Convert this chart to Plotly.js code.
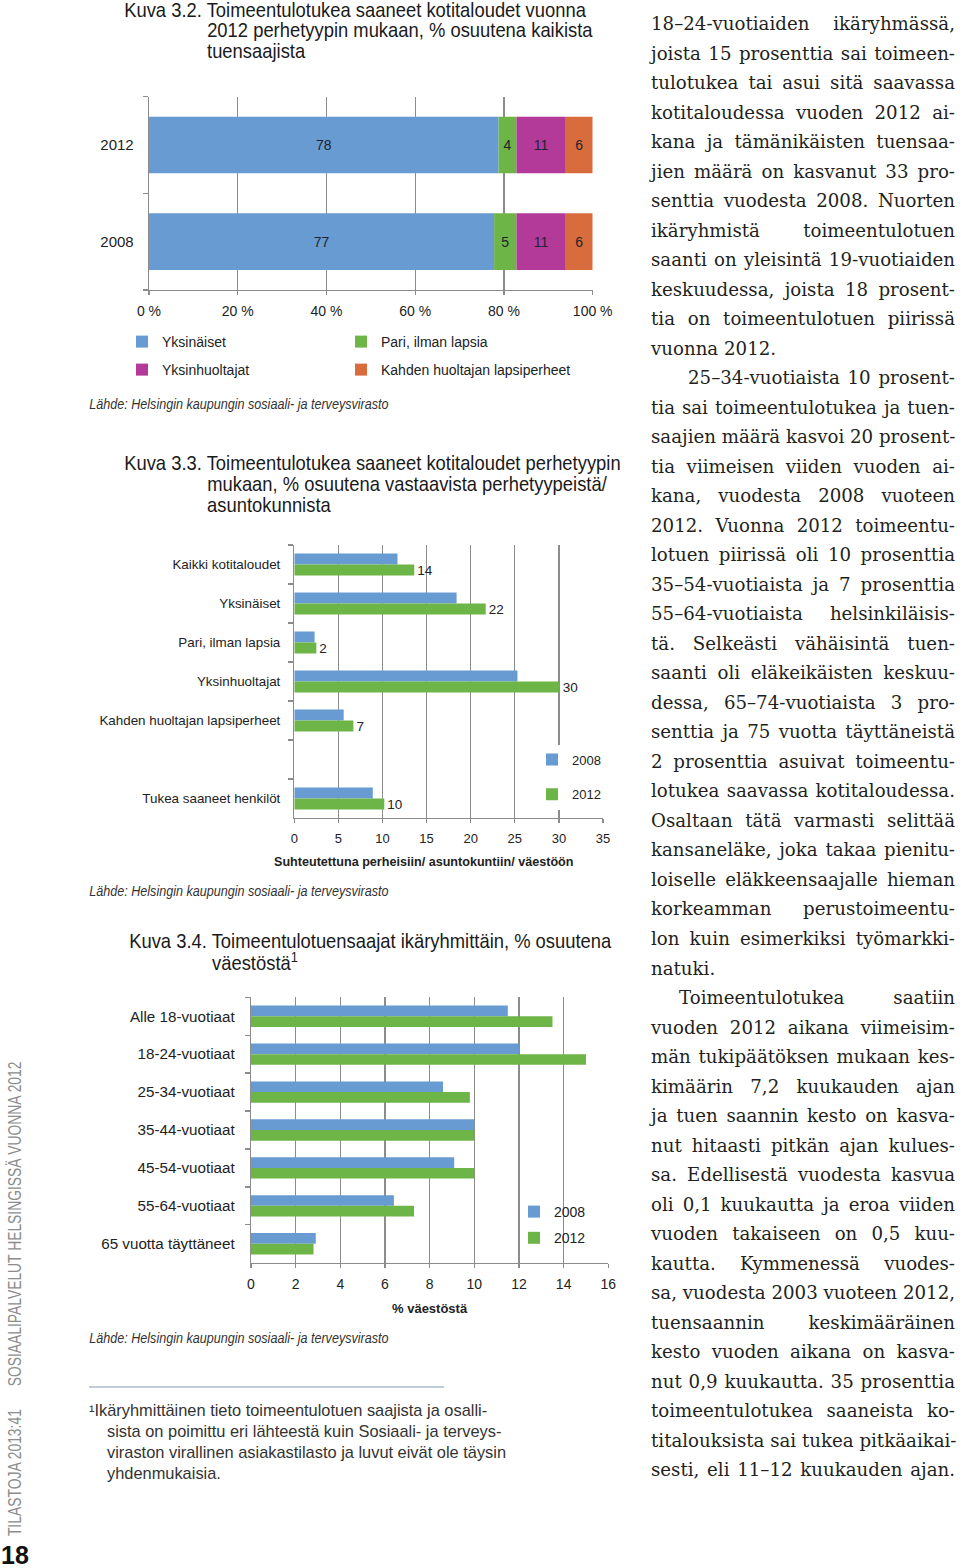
<!DOCTYPE html>
<html>
<head>
<meta charset="utf-8">
<script src="https://cdn.plot.ly/plotly-3.0.1.min.js"></script>
<style>
html, body { margin: 0; padding: 0; background: #fff; }
#page { position: relative; width: 960px; height: 1568px; overflow: hidden; }
#chart { position: absolute; left: 0; top: 0; width: 960px; height: 1568px; }
#col { position: absolute; left: 651px; top: 9px; width: 304px; font-family: 'DejaVu Serif', 'Liberation Serif', serif; font-size: 18.2px; line-height: 29.53px; color: #231f20; }
#col div { text-align: justify; text-align-last: justify; height: 29.53px; white-space: nowrap; }
#col div.end { text-align-last: left; }
</style>
</head>
<body>
<div id="page">
  <div id="chart"></div>
  <div id="col"></div>
</div>
<script>
// Kuva 3.2 – share of all recipients by family type
var years32 = ['2012', '2008'];
var famTypes = ['Yksinäiset', 'Pari, ilman lapsia', 'Yksinhuoltajat', 'Kahden huoltajan lapsiperheet'];
var famColors = ['#689bd1', '#6db546', '#b33a99', '#d96c3c'];
var share2012 = [78, 4, 11, 6];
var share2008 = [77, 5, 11, 6];

// Kuva 3.3 – share of each family type / household
var cats33 = ['Kaikki kotitaloudet', 'Yksinäiset', 'Pari, ilman lapsia', 'Yksinhuoltajat',
              'Kahden huoltajan lapsiperheet', ' ', 'Tukea saaneet henkilöt'];
var rate2008 = [11.7, 18.4, 2.3, 25.3, 5.6, null, 8.9];
var rate2012 = [13.6, 21.7, 2.5, 30.1, 6.7, null, 10.2];
var labels2012 = ['14', '22', '2', '30', '7', ' ', '10'];

// Kuva 3.4 – recipients by age group, % of population
var ages = ['Alle 18-vuotiaat', '18-24-vuotiaat', '25-34-vuotiaat', '35-44-vuotiaat',
            '45-54-vuotiaat', '55-64-vuotiaat', '65 vuotta täyttäneet'];
var age2008 = [11.5, 12.0, 8.6, 10.0, 9.1, 6.4, 2.9];
var age2012 = [13.5, 15.0, 9.8, 10.0, 10.0, 7.3, 2.8];

var yearNames = ['2008', '2012'];
var yearColors = ['#689bd1', '#6db546'];

// body text column, one entry per printed line
var bodyLines = [
  '18–24-vuotiaiden ikäryhmässä,',
  'joista 15 prosenttia sai toimeen-',
  'tulotukea tai asui sitä saavassa',
  'kotitaloudessa vuoden 2012 ai-',
  'kana ja tämänikäisten tuensaa-',
  'jien määrä on kasvanut 33 pro-',
  'senttia vuodesta 2008. Nuorten',
  'ikäryhmistä toimeentulotuen',
  'saanti on yleisintä 19-vuotiaiden',
  'keskuudessa, joista 18 prosent-',
  'tia on toimeentulotuen piirissä',
  'vuonna 2012.',
  '25–34-vuotiaista 10 prosent-',
  'tia sai toimeentulotukea ja tuen-',
  'saajien määrä kasvoi 20 prosent-',
  'tia viimeisen viiden vuoden ai-',
  'kana, vuodesta 2008 vuoteen',
  '2012. Vuonna 2012 toimeentu-',
  'lotuen piirissä oli 10 prosenttia',
  '35–54-vuotiaista ja 7 prosenttia',
  '55–64-vuotiaista helsinkiläisis-',
  'tä. Selkeästi vähäisintä tuen-',
  'saanti oli eläkeikäisten keskuu-',
  'dessa, 65–74-vuotiaista 3 pro-',
  'senttia ja 75 vuotta täyttäneistä',
  '2 prosenttia asuivat toimeentu-',
  'lotukea saavassa kotitaloudessa.',
  'Osaltaan tätä varmasti selittää',
  'kansaneläke, joka takaa pienitu-',
  'loiselle eläkkeensaajalle hieman',
  'korkeamman perustoimeentu-',
  'lon kuin esimerkiksi työmarkki-',
  'natuki.',
  'Toimeentulotukea saatiin',
  'vuoden 2012 aikana viimeisim-',
  'män tukipäätöksen mukaan kes-',
  'kimäärin 7,2 kuukauden ajan',
  'ja tuen saannin kesto on kasva-',
  'nut hitaasti pitkän ajan kulues-',
  'sa. Edellisestä vuodesta kasvua',
  'oli 0,1 kuukautta ja eroa viiden',
  'vuoden takaiseen on 0,5 kuu-',
  'kautta. Kymmenessä vuodes-',
  'sa, vuodesta 2003 vuoteen 2012,',
  'tuensaannin keskimääräinen',
  'kesto vuoden aikana on kasva-',
  'nut 0,9 kuukautta. 35 prosenttia',
  'toimeentulotukea saaneista ko-',
  'titalouksista sai tukea pitkäaikai-',
  'sesti, eli 11–12 kuukauden ajan.'
];
var paraEnds = [11, 32];
var paraStarts = {12: 37, 33: 28};

var col = document.getElementById('col');
bodyLines.forEach(function(line, i) {
  var d = document.createElement('div');
  d.textContent = line;
  if (paraEnds.indexOf(i) >= 0) d.className = 'end';
  if (paraStarts[i]) d.style.paddingLeft = paraStarts[i] + 'px';
  col.appendChild(d);
});

var W = 960, H = 1568;
function px(v) { return v / W; }
function py(v) { return 1 - v / H; }

var SANS = 'Liberation Sans, Arial, sans-serif';
var GRID = '#8c8c8c';
var INK = '#222';

var data = [];

// stacked shares (normalised to 100 %)
var tot2012 = share2012.reduce(function(a, b) { return a + b; }, 0);
var tot2008 = share2008.reduce(function(a, b) { return a + b; }, 0);
var run2012 = 0, run2008 = 0;
famTypes.forEach(function(name, i) {
  var p12 = share2012[i] / tot2012 * 100;
  var p08 = share2008[i] / tot2008 * 100;
  data.push({
    type: 'bar', orientation: 'h', name: name,
    x: [p12, p08], y: years32, base: [run2012, run2008],
    text: [String(share2012[i]), String(share2008[i])],
    textposition: 'inside', insidetextanchor: 'middle', constraintext: 'none',
    insidetextfont: {family: SANS, size: 14, color: '#1d2430'},
    marker: {color: famColors[i], line: {width: 0}},
    offsetgroup: 'k32', width: 0.586,
    xaxis: 'x', yaxis: 'y',
    legend: i < 2 ? 'legend' : 'legend2',
    legendwidth: i % 2 === 0 ? 174 : 240,
    hoverinfo: 'skip'
  });
  run2012 += p12;
  run2008 += p08;
});

// grouped bars, Kuva 3.3
[rate2008, rate2012].forEach(function(vals, k) {
  var t = {
    type: 'bar', orientation: 'h', name: yearNames[k],
    x: vals, y: cats33,
    marker: {color: yearColors[k], line: {width: 0}},
    xaxis: 'x2', yaxis: 'y2', legend: 'legend3', legendgroup: 'g33' + k,
    hoverinfo: 'skip', cliponaxis: false
  };
  if (k === 1) {
    t.text = labels2012;
    t.textposition = 'outside';
    t.constraintext = 'none';
    t.textfont = {family: SANS, size: 13.5, color: INK};
  }
  data.push(t);
});

// grouped bars, Kuva 3.4
[age2008, age2012].forEach(function(vals, k) {
  data.push({
    type: 'bar', orientation: 'h', name: yearNames[k],
    x: vals, y: ages,
    marker: {color: yearColors[k], line: {width: 0}},
    xaxis: 'x3', yaxis: 'y3', legend: 'legend4', legendgroup: 'g34' + k,
    hoverinfo: 'skip'
  });
});

function xAx(dom, range, dtick, size, anchor) {
  return {
    domain: dom, range: range, dtick: dtick, anchor: anchor,
    showgrid: true, gridcolor: GRID, gridwidth: 1.3,
    showline: true, linecolor: GRID, linewidth: 1.3,
    ticks: 'outside', ticklen: 4, tickcolor: GRID, tickwidth: 1.3,
    zeroline: false, fixedrange: true,
    tickfont: {family: SANS, size: size, color: INK}, ticklabelstandoff: 4
  };
}
function yAx(dom, cats, reversed, size, anchor, standoff) {
  return {
    domain: dom, type: 'category', categoryorder: 'array', categoryarray: cats,
    autorange: reversed ? 'reversed' : true, anchor: anchor,
    showgrid: false, showline: true, linecolor: GRID, linewidth: 1.3,
    ticks: 'outside', ticklen: 5, tickcolor: GRID, tickwidth: 1.3, tickson: 'boundaries',
    zeroline: false, fixedrange: true,
    tickfont: {family: SANS, size: size, color: INK}, ticklabelstandoff: standoff
  };
}

var x1 = xAx([px(149), px(592.7)], [0, 100], 20, 14, 'y');
x1.ticksuffix = ' %';

// annotations; "squeeze" imitates the condensed face of the printed page
var annotations = [];
var squeeze = [];
function note(text, x, y, font, extra, fit) {
  var a = {text: text, x: px(x), y: py(y), xref: 'paper', yref: 'paper',
           xanchor: 'left', yanchor: 'middle', showarrow: false, font: font};
  for (var k in extra || {}) a[k] = extra[k];
  if (fit) squeeze.push({index: annotations.length, fit: fit, centre: a.xanchor === 'center'});
  annotations.push(a);
}
var titleFont = {family: SANS, size: 20, color: '#1a1a1a'};
var srcFont = {family: SANS, size: 14, color: '#333', style: 'italic'};
var footFont = {family: SANS, size: 16.4, color: '#333'};
var sideFont = {family: SANS, size: 18, color: '#8d8d8d'};
var src = 'Lähde: Helsingin kaupungin sosiaali- ja terveysvirasto';
var TITLE = {scale: 0.92}, SRC = {scale: 0.9};

note('Kuva 3.2. Toimeentulotukea saaneet kotitaloudet vuonna', 122, 10, titleFont, null, TITLE);
note('2012 perhetyypin mukaan, % osuutena kaikista', 205, 30, titleFont, null, TITLE);
note('tuensaajista', 205, 51, titleFont, null, TITLE);
note(src, 87, 404, srcFont, null, SRC);
note('Kuva 3.3. Toimeentulotukea saaneet kotitaloudet perhetyypin', 122, 463, titleFont, null, TITLE);
note('mukaan, % osuutena vastaavista perhetyypeistä/', 205, 484, titleFont, null, TITLE);
note('asuntokunnista', 205, 505, titleFont, null, TITLE);
note('Suhteutettuna perheisiin/ asuntokuntiin/ väestöön', 423, 862,
     {family: SANS, size: 12.6, color: INK, weight: 'bold'}, {xanchor: 'center'});
note(src, 87, 891, srcFont, null, SRC);
note('Kuva 3.4. Toimeentulotuensaajat ikäryhmittäin, % osuutena', 127, 941, titleFont, null, TITLE);
note('väestöstä<sup>1</sup>', 210, 962, titleFont, null, TITLE);
note('% väestöstä', 430, 1308, {family: SANS, size: 13, color: INK, weight: 'bold'}, {xanchor: 'center'});
note(src, 87, 1338, srcFont, null, SRC);
note('¹Ikäryhmittäinen tieto toimeentulotuen saajista ja osalli-', 87, 1410, footFont);
note('sista on poimittu eri lähteestä kuin Sosiaali- ja terveys-', 105, 1431, footFont);
note('viraston virallinen asiakastilasto ja luvut eivät ole täysin', 105, 1452, footFont);
note('yhdenmukaisia.', 105, 1473, footFont);
note('TILASTOJA 2013:41', 15, 1473, sideFont, {xanchor: 'center', textangle: -90}, {width: 127});
note('SOSIAALIPALVELUT HELSINGISSÄ VUONNA 2012', 15, 1224, sideFont, {xanchor: 'center', textangle: -90}, {width: 325});
note('18', 15, 1555, {family: SANS, size: 25, color: '#111', weight: 'bold'}, {xanchor: 'center'});

var rowLegend = {
  orientation: 'h', xanchor: 'left', yanchor: 'middle', bgcolor: 'rgba(0,0,0,0)',
  font: {family: SANS, size: 14, color: INK}
};

var layout = {
  width: W, height: H,
  margin: {l: 0, r: 0, t: 0, b: 0},
  paper_bgcolor: '#fff', plot_bgcolor: 'rgba(0,0,0,0)',
  barmode: 'group', bargap: 0.436, bargroupgap: 0,
  hovermode: false, showlegend: true,
  xaxis: x1,
  yaxis: yAx([py(290), py(96.7)], ['2008', '2012'], false, 15, 'x', 11),
  xaxis2: xAx([px(294.3), px(603)], [0, 35], 5, 13, 'y2'),
  yaxis2: yAx([py(818), py(545)], cats33, true, 13.4, 'x2', 10),
  xaxis3: xAx([px(251), px(608.3)], [0, 16], 2, 14, 'y3'),
  yaxis3: yAx([py(1262.7), py(997.3)], ages, true, 15.2, 'x3', 12),
  legend: Object.assign({}, rowLegend, {x: px(122), y: py(342)}),
  legend2: Object.assign({}, rowLegend, {x: px(122), y: py(370)}),
  legend3: {x: px(532), y: py(777), xanchor: 'left', yanchor: 'middle', orientation: 'v',
            traceorder: 'grouped', tracegroupgap: 15, bgcolor: '#fff',
            font: {family: SANS, size: 13, color: INK}},
  legend4: {x: px(514), y: py(1225), xanchor: 'left', yanchor: 'middle', orientation: 'v',
            traceorder: 'grouped', tracegroupgap: 5, bgcolor: 'rgba(0,0,0,0)',
            font: {family: SANS, size: 14, color: INK}},
  shapes: [{type: 'line', xref: 'paper', yref: 'paper',
            x0: px(89), x1: px(444), y0: py(1387), y1: py(1387),
            line: {color: '#8497b0', width: 1}}],
  annotations: annotations
};

Plotly.newPlot('chart', data, layout, {staticPlot: true, displayModeBar: false}).then(function(gd) {
  squeeze.forEach(function(s) {
    var g = gd.querySelector('.annotation[data-index="' + s.index + '"]');
    if (!g) return;
    var t = g.querySelector('text.annotation-text') || g.querySelector('text');
    if (!t) return;
    var k = s.fit.scale || (s.fit.width / t.getBBox().width);
    t.style.transformBox = 'fill-box';
    t.style.transformOrigin = s.centre ? '50% 50%' : '0% 50%';
    t.style.transform = 'scaleX(' + k.toFixed(3) + ')';
  });
});
</script>
</body>
</html>
